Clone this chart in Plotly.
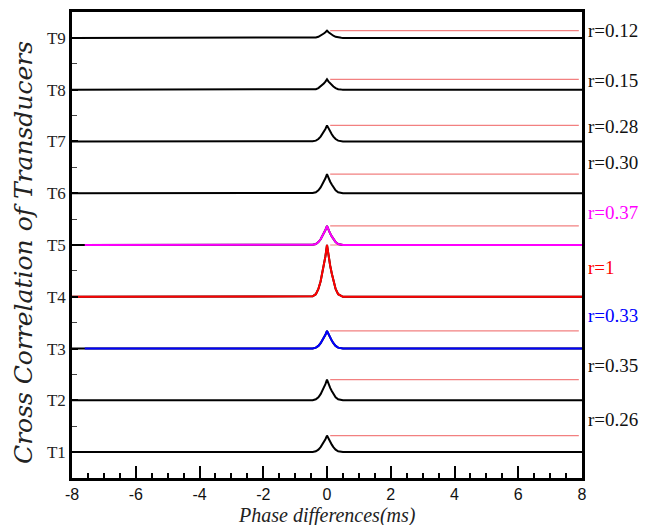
import plotly.graph_objects as go

# Transducer rows (bottom to top)
transducers = ["T1", "T2", "T3", "T4", "T5", "T6", "T7", "T8", "T9"]
baselines = [1, 2, 3, 4, 5, 6, 7, 8, 9]
r_labels = ["r=0.26", "r=0.35", "r=0.33", "r=1", "r=0.37", "r=0.30", "r=0.28", "r=0.15", "r=0.12"]
peak_heights = [0.32, 0.40, 0.34, 1.0, 0.37, 0.37, 0.31, 0.20, 0.14]
label_y = [1.63, 2.67, 3.63, 4.56, 5.63, 6.60, 7.29, 8.17, 9.15]
line_colors = ["black", "black", "#0000ff", "#ff0000", "#ff00ff", "black", "black", "black", "black"]
color_start = [-8, -8, -7.6, -8, -7.6, -8, -8, -8, -8]

# Peak profile (relative to peak height)
profile_x = [-8, -0.5, -0.45, -0.35, -0.27, -0.2, -0.15, -0.1, -0.05, 0,
             0.05, 0.1, 0.15, 0.2, 0.27, 0.35, 0.45, 0.5, 8]
profile_y = [0, 0, 0.01, 0.05, 0.15, 0.3, 0.45, 0.6, 0.78, 1,
             0.78, 0.6, 0.45, 0.3, 0.15, 0.05, 0.01, 0, 0]

# Reference line span
ref_x = [0.1, 7.9]

fig = go.Figure()

for i, name in enumerate(transducers):
    b = baselines[i]
    h = peak_heights[i]
    ys = [b + h * p for p in profile_y]
    fig.add_trace(go.Scatter(x=ref_x, y=[b + h, b + h], mode="lines",
                             line=dict(color="#f28080", width=1.2),
                             showlegend=False, hoverinfo="skip"))
    fig.add_trace(go.Scatter(x=profile_x, y=ys, mode="lines",
                             line=dict(color="black", width=2),
                             showlegend=False))
    if line_colors[i] != "black":
        xs2 = [color_start[i]] + profile_x[1:]
        ys2 = [b] + ys[1:]
        fig.add_trace(go.Scatter(x=xs2, y=ys2, mode="lines",
                                 line=dict(color=line_colors[i], width=2),
                                 showlegend=False))

for i, lab in enumerate(r_labels):
    col = line_colors[i] if line_colors[i] != "black" else "#111111"
    fig.add_annotation(x=1, xref="paper", xanchor="left", xshift=4,
                       y=label_y[i], yref="y", yanchor="middle",
                       text=lab, showarrow=False,
                       font=dict(family="Liberation Serif", size=19, color=col))

# Axis titles as annotations for exact placement
fig.add_annotation(x=0.5, xref="paper", y=0, yref="paper", yanchor="middle", yshift=-37,
                   text="<i>Phase differences(ms)</i>", showarrow=False, borderpad=0,
                   font=dict(family="Liberation Serif", size=20, color="#222222"))
fig.add_annotation(x=0, xref="paper", xanchor="center", xshift=-49,
                   y=0.5, yref="paper", yanchor="middle", yshift=-8, textangle=-90,
                   text="<i>Cross Correlation of Transducers</i>", showarrow=False,
                   font=dict(family="DejaVu Serif", size=25, color="#222222"))

fig.update_xaxes(range=[-8, 8], tickmode="array",
                 tickvals=[-8, -6, -4, -2, 0, 2, 4, 6, 8],
                 ticktext=["-8", "-6", "-4", "-2", "0", "2", "4", "6", "8"],
                 ticks="inside", ticklen=12, tickwidth=2, tickcolor="black",
                 minor=dict(dtick=0.5, ticks="inside", ticklen=5, tickwidth=1.5, tickcolor="black"),
                 showline=True, linewidth=2.5, linecolor="black", mirror=True,
                 showgrid=False, zeroline=False, automargin=False,
                 tickfont=dict(family="Liberation Sans", size=16, color="#111111"))

fig.update_yaxes(range=[0.5, 9.5], tickmode="array",
                 tickvals=baselines, ticktext=transducers,
                 ticks="inside", ticklen=6, tickwidth=1.5, tickcolor="black",
                 minor=dict(tickvals=[1.5, 2.5, 3.5, 4.5, 5.5, 6.5, 7.5, 8.5], ticks="inside",
                            ticklen=5, tickwidth=1, tickcolor="#444444"),
                 showline=True, linewidth=2.5, linecolor="black", mirror=True,
                 showgrid=False, zeroline=False, automargin=False,
                 tickfont=dict(family="Liberation Serif", size=17, color="#222222"))

fig.update_layout(width=646, height=525, margin=dict(l=72, r=64, t=12, b=47),
                  plot_bgcolor="white", paper_bgcolor="white", showlegend=False)

fig.write_html("out.html")
